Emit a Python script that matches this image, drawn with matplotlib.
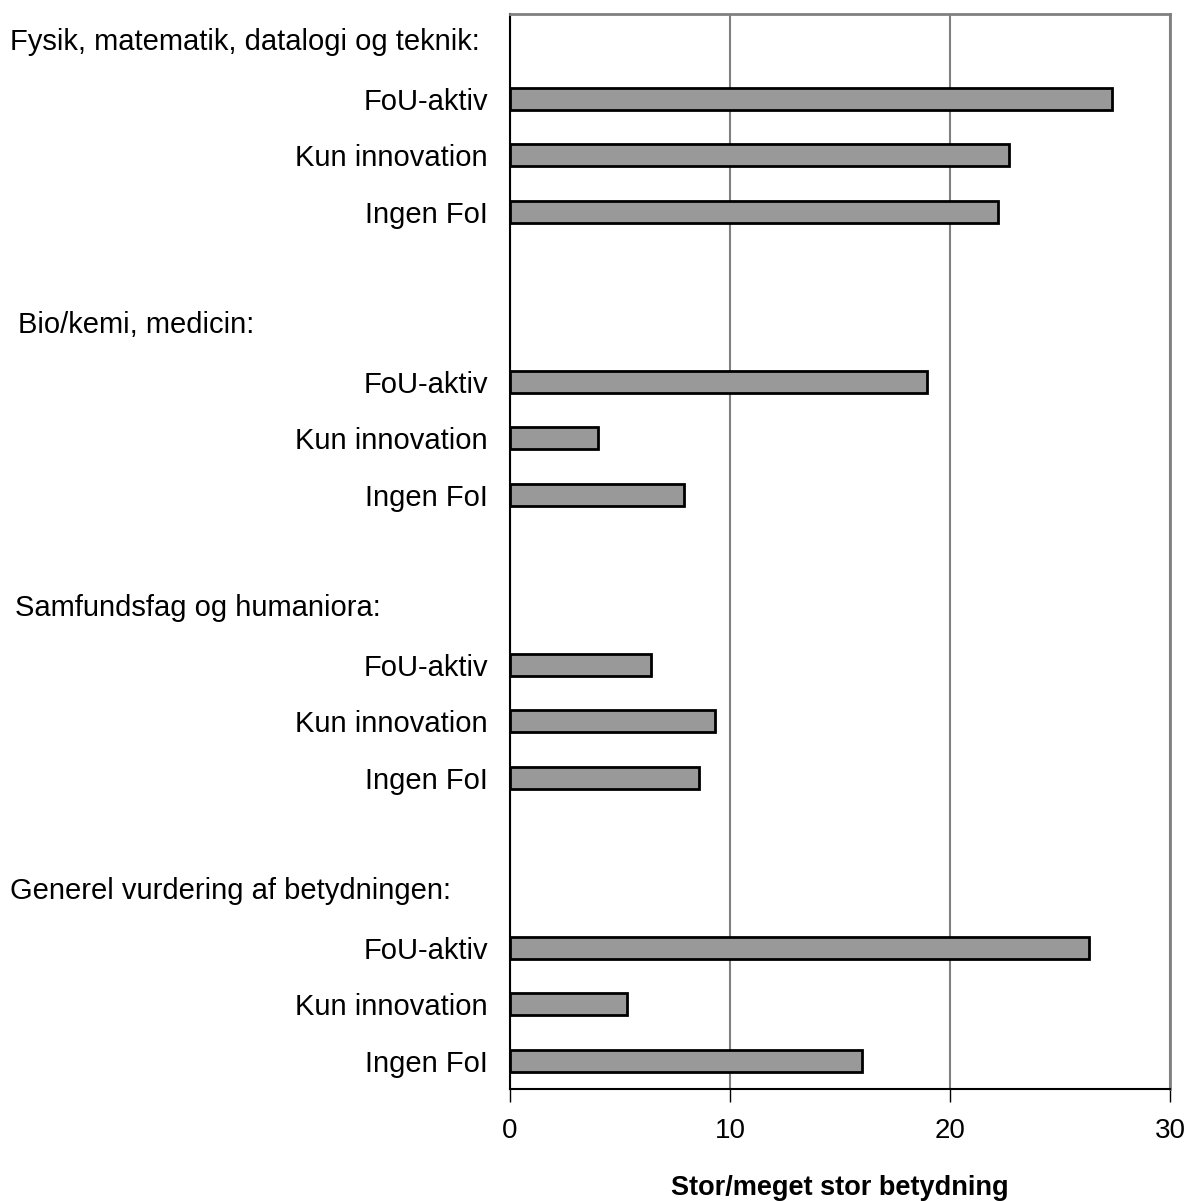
import numpy as np
import matplotlib.pyplot as plt
import matplotlib.transforms as mtransforms

plt.rcParams['font.family'] = ['Liberation Sans', 'DejaVu Sans']

labelFontSize = 21
tickLabelFontSize = 20
xLabelFontSize = 19.5

groups = ['Fysik, matematik, datalogi og teknik:',
          'Bio/kemi, medicin:',
          'Samfundsfag og humaniora:',
          'Generel vurdering af betydningen:']
groupLeftPx = [10, 18, 15, 10]   # header text start, in figure pixels
subLabels = ['FoU-aktiv', 'Kun innovation', 'Ingen FoI']

fysik = [27.35, 22.7, 22.2]
biokemi = [18.95, 4.0, 7.9]
samfund = [6.4, 9.3, 8.6]
generel = [26.3, 5.3, 16.0]
values = [fysik, biokemi, samfund, generel]

xTicks = [0, 10, 20, 30]
xLabel = 'Stor/meget stor betydning'

fig = plt.figure(figsize=(11.92, 12.01), dpi=100)
ax = fig.add_axes([510/1192, 1 - 1089/1201, 660/1192, 1075/1201])

# 19 row slots: header, 3 bars, blank ... (last group has no blank)
ypos = []
ylabels = []
headerPos = []
row = 0
for g, vals in enumerate(values):
    headerPos.append(row)
    row += 1
    for lab, v in zip(subLabels, vals):
        ypos.append(row)
        ylabels.append(lab)
        row += 1
    if g < len(values) - 1:
        row += 1

allVals = [v for vals in values for v in vals]
ax.barh(ypos, allVals, height=0.39, color='#999999', edgecolor='black',
        linewidth=2, zorder=3)

ax.set_ylim(row - 0.5, -0.5)
ax.set_xlim(0, 30)
ax.set_xticks(xTicks)
ax.set_yticks(ypos)
ax.set_yticklabels(ylabels)
ax.tick_params(axis='y', length=0, pad=16, labelsize=labelFontSize)
ax.tick_params(axis='x', length=9, width=1, pad=12, labelsize=tickLabelFontSize,
               direction='out')
ax.xaxis.grid(True, color='#808080', linewidth=1.5, zorder=0)

for side in ['top', 'right']:
    ax.spines[side].set_color('#808080')
    ax.spines[side].set_linewidth(2)
for side in ['left', 'bottom']:
    ax.spines[side].set_color('black')
    ax.spines[side].set_linewidth(1.5)

trans = mtransforms.blended_transform_factory(fig.transFigure, ax.transData)
for name, xp, yp in zip(groups, groupLeftPx, headerPos):
    ax.text(xp/1192, yp, name, transform=trans, ha='left', va='center',
            fontsize=labelFontSize)

ax.set_xlabel(xLabel, fontsize=xLabelFontSize, fontweight='bold', labelpad=22)

fig.savefig('out.png', dpi=100)
